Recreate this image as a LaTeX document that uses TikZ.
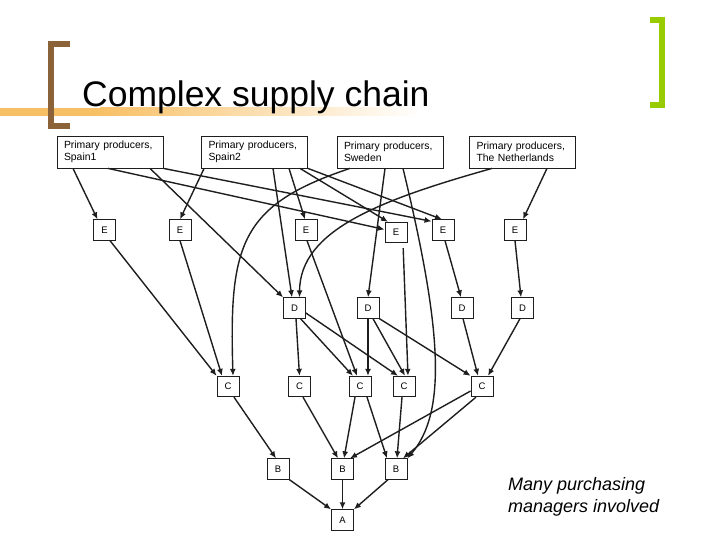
\documentclass[tikz,border=0pt]{standalone}
\usepackage{fontspec}
\setmainfont{Liberation Sans}
\usetikzlibrary{arrows.meta}
\definecolor{brbrown}{RGB}{140,98,57}
\definecolor{brgreen}{RGB}{153,204,0}
\definecolor{barorange}{RGB}{248,192,102}
\definecolor{ink}{RGB}{30,30,30}
\begin{document}
\begin{tikzpicture}[x=1pt,y=-1pt,
  prod/.style={draw=ink, line width=0.8pt, fill=white, text width=92pt, inner xsep=7pt, inner ysep=0pt, minimum height=32pt, align=left, font=\fontsize{10.4}{11.5}\selectfont},
  sbox/.style={draw=ink, line width=0.8pt, fill=white, minimum width=22pt, minimum height=20.5pt, inner sep=0pt, font=\fontsize{9.5}{10}\selectfont},
  conn/.style={draw=ink, line width=1.4pt, -{Latex[length=7pt,width=6pt]}},
]
\useasboundingbox (0,0) rectangle (720,540);
% header decoration
\fill[barorange] (0,108) rectangle (100,116);
\fill[left color=barorange, right color=white, draw=none] (100,108) rectangle (420,116);
\draw[brbrown, line width=6pt, line join=miter] (70,44) -- (51,44) -- (51,126) -- (70,126);
\draw[brgreen, line width=6pt, line join=miter] (650,20) -- (662,20) -- (662,105) -- (650,105);
\node[anchor=base west, font=\fontsize{35.5}{40}\selectfont, inner sep=0pt] (title) at (82,107) {Complex supply chain};

% producers
\node[prod] (s1) at (110,152) {Primary producers,\\Spain1};
\node[prod] (s2) at (254.5,152) {Primary producers,\\Spain2};
\node[prod] (sw) at (390,152) {Primary producers,\\Sweden};
\node[prod] (nl) at (522.5,152) {Primary producers,\\The Netherlands};

% E row
\node[sbox] (e1) at (104.5,230) {E};
\node[sbox] (e2) at (180,230) {E};
\node[sbox] (e3) at (306,230) {E};
\node[sbox] (e4) at (396,232.5) {E};
\node[sbox] (e5) at (443,230) {E};
\node[sbox] (e6) at (515,230) {E};
% D row
\node[sbox] (d1) at (294.5,308) {D};
\node[sbox] (d2) at (368,308) {D};
\node[sbox] (d3) at (462,308) {D};
\node[sbox] (d4) at (522.5,308) {D};
% C row
\node[sbox] (c1) at (228,386.5) {C};
\node[sbox] (c2) at (299.5,386.5) {C};
\node[sbox] (c3) at (360,386.5) {C};
\node[sbox] (c4) at (404,386.5) {C};
\node[sbox] (c5) at (482,386.5) {C};
% B row
\node[sbox] (b1) at (278,469) {B};
\node[sbox] (b2) at (342.5,469) {B};
\node[sbox] (b3) at (396,469) {B};
% A
\node[sbox] (a) at (342.5,520) {A};

% producers -> ...
\draw[conn] ([xshift=-37pt]s1.south) -- ([xshift=-7pt]e1.north);
\draw[conn] ([xshift=-2pt]s1.south) -- ([yshift=3pt]e4.west);
\draw[conn] (s1.south east) -- ([yshift=-2pt]e5.north west);
\draw[conn] ([xshift=40pt]s1.south) -- (d1.north west);

\draw[conn] ([xshift=3pt]s2.south west) -- (e2.north);
\draw[conn] ([xshift=18.5pt]s2.south) -- ([xshift=-2.5pt]d1.north);
\draw[conn] ([xshift=34.5pt]s2.south) -- ([xshift=-1pt]e3.north);
\draw[conn] ([xshift=45.5pt]s2.south) -- ([xshift=-8pt]e4.north);
\draw[conn] (s2.south east) -- ([xshift=-1pt]e5.north);

\draw[conn] ([xshift=-40pt]sw.south) .. controls (240,205) and (229,245) .. ([xshift=5pt]c1.north);
\draw[conn] ([xshift=-5pt]sw.south) -- (d2.north);
\draw[conn] ([xshift=13pt]sw.south) .. controls (442,330) and (447,412) .. (b3.north east);

\draw[conn] ([xshift=24.5pt]nl.south) -- ([xshift=8pt]e6.north);
\draw[conn] ([xshift=-30.5pt]nl.south) .. controls (380,200) and (300,230) .. ([xshift=5pt]d1.north);

% E -> ...
\draw[conn] ([xshift=5.5pt]e1.south) -- (c1.north west);
\draw[conn] (e2.south) -- ([xshift=-6pt]c1.north);
\draw[conn] ([xshift=1pt]e3.south) -- ([xshift=-3pt]c3.north);
\draw[conn, shorten <=5pt] ([xshift=7pt]e4.south) -- ([xshift=4pt]c4.north);
\draw[conn] ([xshift=2pt]e5.south) -- ([xshift=-1pt]d3.north);
\draw[conn] (e6.south) -- ([xshift=-1.5pt]d4.north);

% D -> C
\draw[conn] ([xshift=1.5pt]d1.south) -- (c2.north);
\draw[conn] ([xshift=6pt]d1.south) -- ([xshift=-7pt]c3.north);
\draw[conn] ([yshift=-5pt]d1.east) -- ([xshift=-6pt]c4.north);
\draw[conn] (d2.south) -- ([xshift=8pt]c3.north);
\draw[conn] ([xshift=5pt]d2.south) -- ([xshift=1pt]c4.north);
\draw[conn] (d2.south east) -- (c5.north west);
\draw[conn] ([xshift=1pt]d3.south) -- ([xshift=-4pt]c5.north);
\draw[conn] ([xshift=-2.5pt]d4.south) -- ([xshift=6pt]c5.north);

% C -> B
\draw[conn] ([xshift=6pt]c1.south) -- ([xshift=-2pt]b1.north);
\draw[conn] ([xshift=3.5pt]c2.south) -- ([xshift=-4.5pt]b2.north);
\draw[conn] ([xshift=-5pt]c3.south) -- ([xshift=1.5pt]b2.north);
\draw[conn] ([xshift=7pt]c3.south) -- ([xshift=-9pt]b3.north);
\draw[conn] ([xshift=-2pt]c4.south) -- ([xshift=1pt]b3.north);
\draw[conn] ([yshift=-4.5pt]c5.west) -- ([xshift=7.5pt]b2.north);
\draw[conn] ([xshift=-6pt]c5.south) -- ([xshift=7pt]b3.north);

% B -> A
\draw[conn] (b1.south east) -- (a.north west);
\draw[conn] (b2.south) -- (a.north);
\draw[conn] ([xshift=-8pt]b3.south) -- (a.north east);

% note
\node[anchor=base west, font=\fontsize{18}{22}\selectfont\itshape, inner sep=0pt] (note1) at (508,490) {Many purchasing};
\node[anchor=base west, font=\fontsize{18}{22}\selectfont\itshape, inner sep=0pt] (note2) at (508,512) {managers involved};
\end{tikzpicture}
\end{document}
